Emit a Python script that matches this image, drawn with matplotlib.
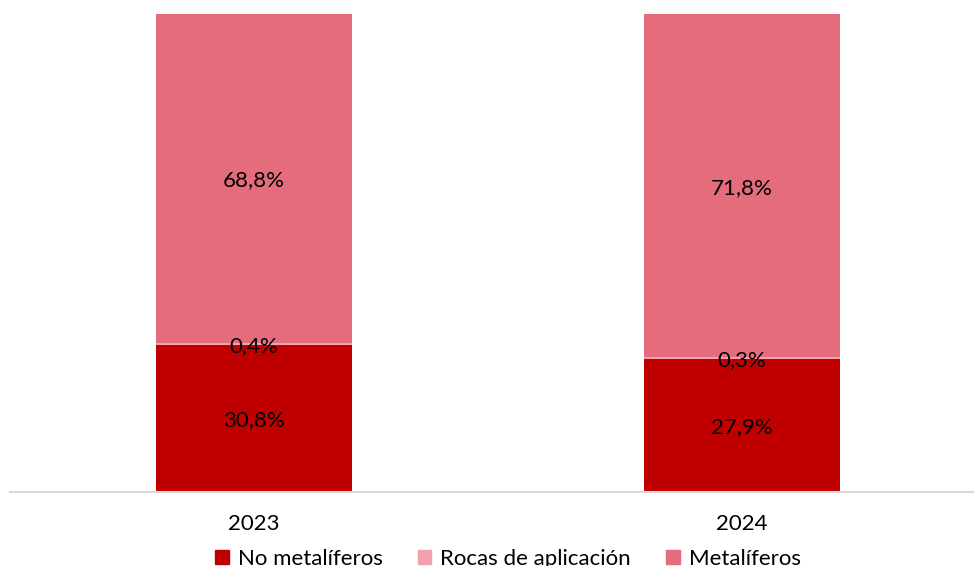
import matplotlib.pyplot as plt
from matplotlib.patches import Patch
import numpy as np

plt.rcParams['font.family'] = ['Lato', 'DejaVu Sans']

years = ["2023", "2024"]
series_names = ["No metalíferos", "Rocas de aplicación", "Metalíferos"]
no_metal = [30.8, 27.9]
rocas = [0.4, 0.3]
metal = [68.8, 71.8]
colors = ["#C00000", "#F0A3AF", "#E46C7B"]

fig = plt.figure(figsize=(9.74, 5.66), dpi=100)
# axes spans past the right edge like the original (cropped)
ax = fig.add_axes([10/974, 1-492/566, 976/974, 478/566])

x = np.arange(len(years))
bottom = np.zeros(len(years))
for vals, col in zip([no_metal, rocas, metal], colors):
    vals = np.array(vals)
    ax.bar(x, vals, width=0.4, bottom=bottom, color=col, edgecolor='none')
    for xi, b, v in zip(x, bottom, vals):
        ax.text(xi, b + v/2, ("%.1f%%" % v).replace(".", ","), ha='center', va='center_baseline',
                fontsize=16, color='black')
    bottom += vals

ax.set_xlim(-0.5, 1.5)
ax.set_ylim(0, 100)
ax.set_xticks(x)
ax.set_xticklabels(years, fontsize=16)
ax.tick_params(axis='x', length=0, pad=16)
ax.set_yticks([])
for s in ['top', 'right', 'left']:
    ax.spines[s].set_visible(False)
ax.spines['bottom'].set_color('#D9D9D9')
ax.spines['bottom'].set_linewidth(1.5)

handles = [Patch(color=c) for c in colors]
fig.legend(handles, series_names, loc='center', bbox_to_anchor=(508/974, 1-559/566),
           ncol=3, frameon=False, fontsize=16, handlelength=0.6, handleheight=0.6,
           handletextpad=0.4, columnspacing=1.6)

fig.savefig("out.png", dpi=100)
